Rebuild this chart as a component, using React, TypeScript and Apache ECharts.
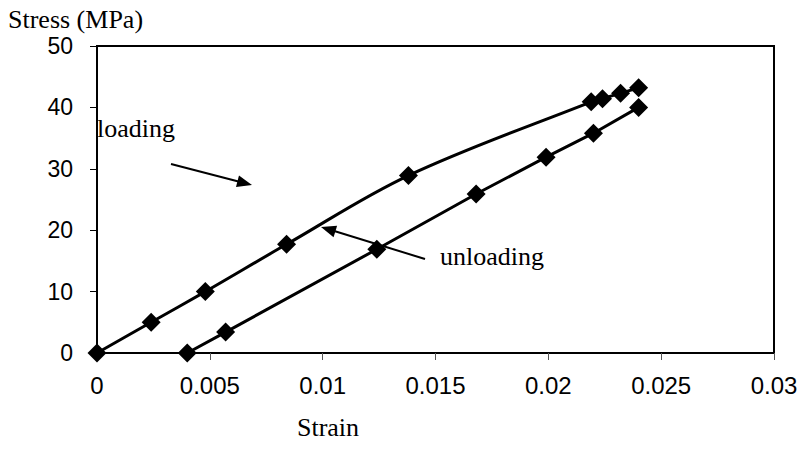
import React, { useEffect, useRef } from "react";
import * as echarts from "echarts";

// Loading branch (strain, stress in MPa)
const loadingStrain = [0, 0.0024, 0.0048, 0.0084, 0.0138, 0.0219, 0.0224, 0.0232, 0.024];
const loadingStress = [0, 5, 10, 17.7, 28.9, 40.9, 41.4, 42.3, 43.2];

// Unloading branch
const unloadingStrain = [0.024, 0.022, 0.0199, 0.0168, 0.0124, 0.0057, 0.004];
const unloadingStress = [40, 35.8, 31.9, 25.9, 16.9, 3.4, 0];

const xTicks = { min: 0, max: 0.03, interval: 0.005 };
const yTicks = { min: 0, max: 50, interval: 10 };

const annotations = [
  { text: "loading", x: 97, y: 128 },
  { text: "unloading", x: 440, y: 256 },
];

const arrows = [
  { from: [171, 164], to: [252, 185] },
  { from: [425, 259], to: [321, 227] },
];

function arrowGraphics() {
  const out: any[] = [];
  for (const a of arrows) {
    const [x1, y1] = a.from;
    const [x2, y2] = a.to;
    const dx = x2 - x1;
    const dy = y2 - y1;
    const len = Math.hypot(dx, dy);
    const ux = dx / len;
    const uy = dy / len;
    const headLen = 15;
    const headW = 6;
    const bx = x2 - ux * headLen;
    const by = y2 - uy * headLen;
    out.push({
      type: "line",
      shape: { x1, y1, x2: bx + ux * 2, y2: by + uy * 2 },
      style: { stroke: "#000", lineWidth: 2 },
    });
    out.push({
      type: "polygon",
      shape: {
        points: [
          [x2, y2],
          [bx - uy * headW, by + ux * headW],
          [bx + uy * headW, by - ux * headW],
        ],
      },
      style: { fill: "#000" },
    });
  }
  return out;
}

const fmt = (v: number) => String(+v.toFixed(3));

export default function App() {
  const ref = useRef<HTMLDivElement>(null);

  useEffect(() => {
    if (!ref.current) return;
    const chart = echarts.init(ref.current, null, { renderer: "svg" });
    const serif = "'Liberation Serif', 'Times New Roman', serif";
    const sans = "'Liberation Sans', Arial, sans-serif";

    chart.setOption({
      animation: false,
      backgroundColor: "#fff",
      grid: {
        left: 97,
        top: 46,
        right: 32,
        bottom: 96,
        show: true,
        borderColor: "#000",
        borderWidth: 2,
        backgroundColor: "transparent",
      },
      xAxis: {
        type: "value",
        min: xTicks.min,
        max: xTicks.max,
        interval: xTicks.interval,
        splitLine: { show: false },
        axisLine: { show: true, onZero: false, lineStyle: { color: "#000", width: 2 } },
        axisTick: { show: true, inside: false, length: 7, lineStyle: { color: "#555", width: 1 } },
        axisLabel: {
          color: "#000",
          fontFamily: sans,
          fontSize: 24,
          margin: 20,
          formatter: fmt,
        },
      },
      yAxis: {
        type: "value",
        min: yTicks.min,
        max: yTicks.max,
        interval: yTicks.interval,
        splitLine: { show: false },
        axisLine: { show: true, onZero: false, lineStyle: { color: "#000", width: 2 } },
        axisTick: { show: true, inside: false, length: 7, lineStyle: { color: "#000", width: 1 } },
        axisLabel: {
          color: "#000",
          fontFamily: sans,
          fontSize: 23,
          margin: 24,
        },
      },
      series: [
        {
          name: "loading",
          type: "line",
          smooth: 0.35,
          data: loadingStrain.map((x, i) => [x, loadingStress[i]]),
          symbol: "diamond",
          symbolSize: 19,
          itemStyle: { color: "#000" },
          lineStyle: { color: "#000", width: 3 },
          z: 3,
        },
        {
          name: "unloading",
          type: "line",
          data: unloadingStrain.map((x, i) => [x, unloadingStress[i]]),
          symbol: "diamond",
          symbolSize: 19,
          itemStyle: { color: "#000" },
          lineStyle: { color: "#000", width: 3 },
          z: 3,
        },
      ],
      graphic: [
        {
          type: "text",
          left: 8,
          top: 6,
          style: { text: "Stress (MPa)", font: `26px ${serif}`, fill: "#000" },
        },
        {
          type: "text",
          x: 328,
          y: 427,
          style: {
            text: "Strain",
            font: `26px ${serif}`,
            fill: "#000",
            align: "center",
            verticalAlign: "middle",
          },
        },
        ...annotations.map((a) => ({
          type: "text",
          x: a.x,
          y: a.y,
          style: {
            text: a.text,
            font: `26px ${serif}`,
            fill: "#000",
            verticalAlign: "middle",
          },
        })),
        ...arrowGraphics(),
      ],
    });

    return () => chart.dispose();
  }, []);

  return (
    <div
      ref={ref}
      style={{ position: "fixed", left: 0, top: 0, width: 806, height: 449 }}
    />
  );
}
